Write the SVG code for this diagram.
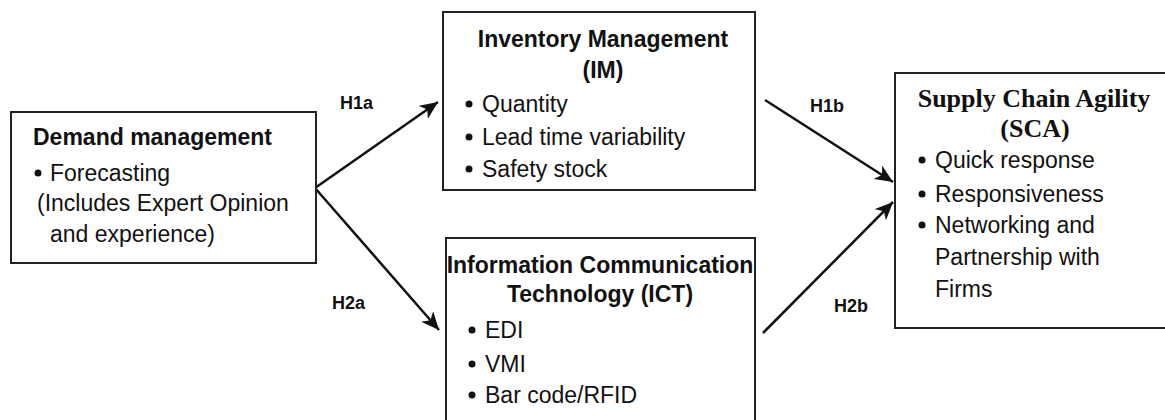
<svg xmlns="http://www.w3.org/2000/svg" width="1165" height="420" viewBox="0 0 1165 420">
<style>
.box{fill:#fff;stroke:#222;stroke-width:2}
.t{font-family:"Liberation Sans",Arial,sans-serif;font-size:23px;fill:#111}
.b{font-weight:bold}
.s{font-family:"Liberation Serif","Times New Roman",serif;font-size:26px;font-weight:bold;fill:#111}
.lab{font-family:"Liberation Sans",Arial,sans-serif;font-size:18px;font-weight:bold;fill:#111}
.c{stroke:#111;stroke-width:2.5;fill:none;marker-end:url(#ah)}
.dot{fill:#111}
</style>
<defs>
<marker id="ah" markerUnits="userSpaceOnUse" markerWidth="20" markerHeight="16" refX="18" refY="8" orient="auto">
<path d="M0,0 L18,8 L0,16 L5,8 Z" fill="#111"/>
</marker>
</defs>
<rect width="1165" height="420" fill="#fff"/>
<g id="connectors">
<line class="c" x1="315" y1="188" x2="438" y2="102"/>
<line class="c" x1="315" y1="188" x2="439" y2="330"/>
<line class="c" x1="765" y1="100" x2="893" y2="182"/>
<line class="c" x1="763" y1="333" x2="893" y2="202"/>
<text class="lab" x="340" y="109">H1a</text>
<text class="lab" x="332" y="309">H2a</text>
<text class="lab" x="810" y="112">H1b</text>
<text class="lab" x="834" y="312">H2b</text>
</g>
<g id="demand">
<rect class="box" x="11" y="112" width="305" height="151"/>
<text class="t b" x="33" y="145">Demand management</text>
<circle class="dot" cx="38" cy="173" r="3.5"/>
<text class="t" x="50" y="181">Forecasting</text>
<text class="t" x="37" y="211">(Includes Expert Opinion</text>
<text class="t" x="50" y="242">and experience)</text>
</g>
<g id="im">
<rect class="box" x="443" y="12" width="312" height="178"/>
<text class="t b" x="603" y="47" text-anchor="middle">Inventory Management</text>
<text class="t b" x="603" y="78" text-anchor="middle">(IM)</text>
<circle class="dot" cx="469" cy="104" r="3.5"/>
<text class="t" x="482" y="112">Quantity</text>
<circle class="dot" cx="469" cy="137" r="3.5"/>
<text class="t" x="482" y="145">Lead time variability</text>
<circle class="dot" cx="469" cy="169" r="3.5"/>
<text class="t" x="482" y="177">Safety stock</text>
</g>
<g id="ict">
<rect class="box" x="446" y="238" width="309" height="200"/>
<text class="t b" x="600" y="273" text-anchor="middle">Information Communication</text>
<text class="t b" x="600" y="302" text-anchor="middle">Technology (ICT)</text>
<circle class="dot" cx="472" cy="330" r="3.5"/>
<text class="t" x="485" y="338">EDI</text>
<circle class="dot" cx="472" cy="364" r="3.5"/>
<text class="t" x="485" y="372">VMI</text>
<circle class="dot" cx="472" cy="395" r="3.5"/>
<text class="t" x="485" y="403">Bar code/RFID</text>
</g>
<g id="sca">
<rect class="box" x="895" y="73" width="280" height="255"/>
<text class="s" x="1034" y="107" text-anchor="middle">Supply Chain Agility</text>
<text class="s" x="1035" y="137" text-anchor="middle">(SCA)</text>
<circle class="dot" cx="922" cy="160" r="3.5"/>
<text class="t" x="935" y="168">Quick response</text>
<circle class="dot" cx="922" cy="194" r="3.5"/>
<text class="t" x="935" y="202">Responsiveness</text>
<circle class="dot" cx="922" cy="225" r="3.5"/>
<text class="t" x="935" y="233">Networking and</text>
<text class="t" x="935" y="265">Partnership with</text>
<text class="t" x="935" y="297">Firms</text>
</g>
</svg>
